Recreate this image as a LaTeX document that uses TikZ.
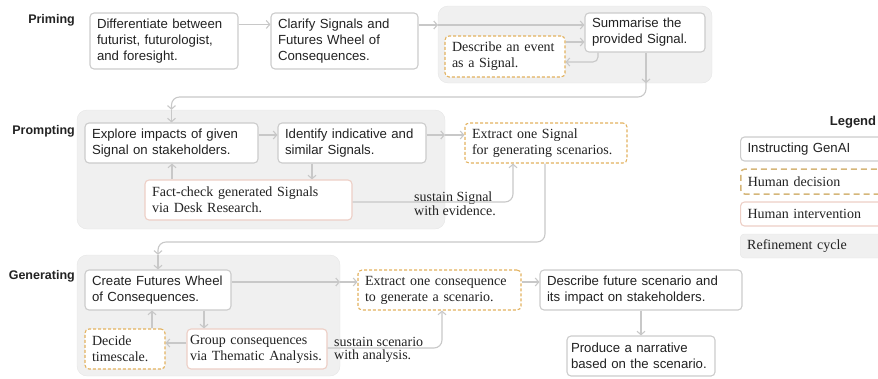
\documentclass[tikz,border=0pt]{standalone}
\usepackage{fontspec}
\setmainfont{Liberation Serif}
\newfontfamily\sansf{Liberation Sans}
\usetikzlibrary{arrows.meta}
\definecolor{gb}{HTML}{CCCCCC}
\definecolor{ar}{HTML}{C8C8C8}
\definecolor{og}{HTML}{E3B25F}
\definecolor{pk}{HTML}{EDCFC6}
\definecolor{rf}{HTML}{F0F0F0}
\definecolor{rb}{HTML}{E6E6E6}
\definecolor{tx}{HTML}{222222}
\definecolor{lg}{HTML}{D5B679}
\begin{document}
\begin{tikzpicture}[x=1pt,y=-1pt,
 box/.style={rounded corners=4pt, align=left, inner xsep=7pt, inner ysep=1pt, line width=1.1pt, fill=white, text=tx},
 gen/.style={box, draw=gb, font=\sansf\fontsize{13.2}{16}\selectfont},
 dec/.style={box, draw=og, dash pattern=on 3pt off 2pt, font=\fontsize{14}{16}\selectfont},
 hum/.style={box, draw=pk, font=\fontsize{14}{16}\selectfont},
 region/.style={fill=rf, rounded corners=10pt, draw=rb, line width=0.4pt},
 arr/.style={draw=ar, line width=1.1pt, -{Straight Barb[length=3.5pt,width=8pt]}},
 lbl/.style={font=\sansf\bfseries\fontsize{12.5}{15}\selectfont, text=tx, anchor=east, inner sep=0pt},
 ann/.style={font=\fontsize{14}{13.5}\selectfont, text=tx, align=left, anchor=west, inner sep=0pt},
]
\useasboundingbox (0,0) rectangle (878,378);
\clip (0,0) rectangle (878,378);

% regions
\node[region, minimum width=274pt, minimum height=77pt] (rp) at (575,44.5) {};
\node[region, minimum width=368pt, minimum height=119pt] (rq) at (261,169.5) {};
\node[region, minimum width=263pt, minimum height=121pt] (rr) at (208.5,315.5) {};

% phase labels
\node[lbl] (lp1) at (75,20) {Priming};
\node[lbl] (lp2) at (75,131) {Prompting};
\node[lbl] (lp3) at (75,276) {Generating};

% Priming
\node[gen, minimum width=148pt, minimum height=56pt, text width=134pt] (a1) at (164,41) {Differentiate between\\futurist, futurologist,\\and foresight.};
\node[gen, minimum width=147pt, minimum height=56pt, text width=133pt] (a2) at (344.5,41) {Clarify Signals and\\Futures Wheel of\\Consequences.};
\node[gen, minimum width=120pt, minimum height=39pt, text width=106pt] (a3) at (645,32.5) {Summarise the\\provided Signal.};
\node[dec, minimum width=120pt, minimum height=41pt, text width=106pt] (a4) at (505,56.5) {Describe an event\\as a Signal.};

% Prompting
\node[gen, minimum width=173pt, minimum height=40pt, text width=159pt] (b1) at (171.5,143) {Explore impacts of given\\Signal on stakeholders.};
\node[gen, minimum width=148pt, minimum height=40pt, text width=134pt] (b2) at (352,143) {Identify indicative and\\similar Signals.};
\node[hum, minimum width=207pt, minimum height=40pt, text width=193pt] (b3) at (248.5,200) {Fact-check generated Signals\\via Desk Research.};
\node[dec, minimum width=162pt, minimum height=40pt, text width=148pt] (c) at (546,143) {Extract one Signal\\for generating scenarios.};

% Generating
\node[gen, minimum width=146pt, minimum height=40pt, text width=132pt] (d1) at (158,290) {Create Futures Wheel\\of Consequences.};
\node[hum, inner xsep=3pt, minimum width=140pt, minimum height=40pt, text width=134pt] (d2) at (257,349) {Group consequences\\via Thematic Analysis.};
\node[dec, minimum width=80pt, minimum height=40pt, text width=66pt] (d3) at (125,349) {Decide\\timescale.};
\node[dec, minimum width=163pt, minimum height=40pt, text width=149pt] (e) at (439.5,290) {Extract one consequence\\to generate a scenario.};
\node[gen, minimum width=202pt, minimum height=40pt, text width=188pt] (f) at (641,290) {Describe future scenario and\\its impact on stakeholders.};
\node[gen, inner xsep=4pt, minimum width=148pt, minimum height=40pt, text width=140pt] (g) at (641,356) {Produce a narrative\\based on the scenario.};

% annotations
\node[ann] (s1) at (414,203.5) {sustain Signal\\with evidence.};
\node[ann] (s2) at (334,350) {sustain scenario\\with analysis.};

% legend
\node[font=\sansf\bfseries\fontsize{13}{15}\selectfont, text=tx, inner sep=0pt] (lt) at (853,122) {Legend};
\node[gen, anchor=west, minimum width=170pt, minimum height=24pt, text width=156pt, inner xsep=6pt] (l1) at (740,149) {Instructing GenAI};
\node[box, draw=lg, dash pattern=on 6pt off 4pt, line width=1.5pt, anchor=west, minimum width=170pt, minimum height=25pt, text width=156pt, inner xsep=6pt, font=\fontsize{14}{16}\selectfont] (l2) at (740,181.5) {Human decision};
\node[hum, anchor=west, minimum width=170pt, minimum height=24pt, text width=156pt, inner xsep=6pt] (l3) at (740,214) {Human intervention};
\node[box, fill=rf, draw=rb, line width=0.4pt, anchor=west, minimum width=170pt, minimum height=24pt, text width=156pt, inner xsep=6pt, font=\fontsize{14}{16}\selectfont] (l4) at (740,246) {Refinement cycle};

% coordinates
\coordinate (pin) at (438,25);
\coordinate (y42) at (0,42);
\coordinate (bendP) at (0,97);
\coordinate (qout) at (445,135);
\coordinate (bendQ) at (0,242);
\coordinate (rout) at (340,282);

% Priming connectors
\draw[arr] ([yshift=-12pt]a1.north east) -- ([yshift=-12pt]a2.north west);
\draw[arr] (a2.east |- pin) -- (pin);
\draw[arr] (pin) -- (a3.west |- pin);
\draw[arr] (a4.east |- y42) -- (a3.west |- y42);
\draw[arr, rounded corners=5pt] ([xshift=-47pt]a3.south) |- ([yshift=-5.5pt]a4.east);
\draw[arr] ([xshift=1pt]a3.south) -- ([xshift=1pt]a3.south |- rp.south);
\draw[arr, rounded corners=8pt] ([xshift=1pt]a3.south |- rp.south) -- ([xshift=1pt]a3.south |- bendP) -- (b1.north |- bendP) -- (b1.north |- rq.north);

% Prompting connectors
\draw[arr] (b1.north |- rq.north) -- (b1.north);
\draw[arr] ([yshift=8pt]b1.east) -- ([yshift=8pt]b2.west);
\draw[arr] ([xshift=-40pt]b2.south) -- ([xshift=63.5pt]b3.north);
\draw[arr] ([xshift=-76.5pt]b3.north) -- ([xshift=0.5pt]b1.south);
\draw[arr] (b2.east |- qout) -- (qout);
\draw[arr] (qout) -- (c.west |- qout);
\draw[arr, rounded corners=8pt] ([yshift=-2pt]b3.east) -| ([xshift=-33pt]c.south);
\draw[arr, rounded corners=8pt] ([xshift=-1pt]c.south) -- ([xshift=-1pt]c.south |- bendQ) -- (d1.north |- bendQ) -- (d1.north |- rr.north);

% Generating connectors
\draw[arr] (d1.north |- rr.north) -- (d1.north);
\draw[arr] ([xshift=46pt]d1.south) -- ([xshift=-53pt]d2.north);
\draw[arr] ([yshift=6pt]d2.west) -- ([yshift=6pt]d3.east);
\draw[arr] ([xshift=27pt]d3.north) -- ([xshift=-6pt]d1.south);
\draw[arr] (d1.east |- rout) -- (rout);
\draw[arr] (rout) -- (e.west |- rout);
\draw[arr, rounded corners=8pt] ([yshift=1pt]d2.east) -| ([xshift=2.5pt]e.south);
\draw[arr] (e.east |- rout) -- (f.west |- rout);
\draw[arr] (f.south) -- (g.north);
\end{tikzpicture}
\end{document}
